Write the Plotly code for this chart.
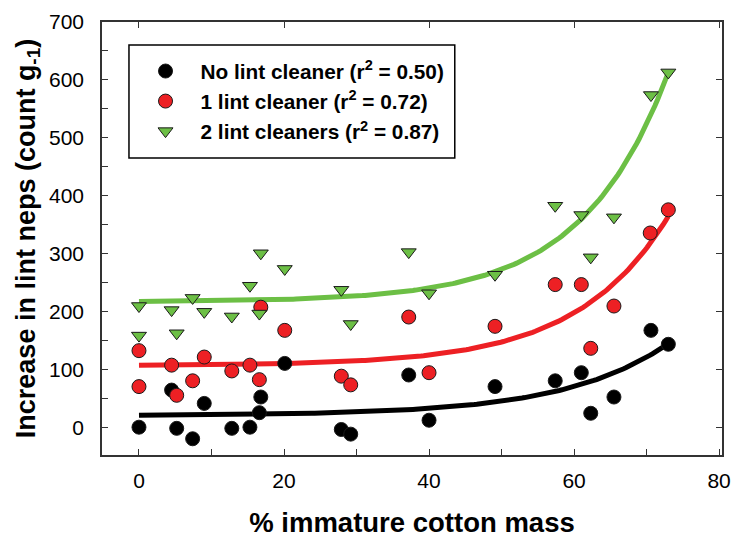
import numpy as np
import plotly.graph_objects as go

# ---- data ----
x_none = [0, 4.5, 5.2, 7.4, 9.0, 12.8, 15.3, 16.6, 16.8, 20.1, 27.9, 29.2, 37.2, 40.0, 49.1, 57.4, 61.0, 62.3, 65.5, 70.6, 73.0]
y_none = [1, 65, -1, -19, 42, -1, 1, 26, 53, 111, -3, -11, 91, 13, 71, 81, 95, 25, 53, 168, 144]

x_one = [0, 0, 4.5, 5.2, 7.4, 9.0, 12.8, 15.3, 16.6, 16.8, 20.1, 27.9, 29.2, 37.2, 40.0, 49.1, 57.4, 61.0, 62.3, 65.5, 70.5, 73.0]
y_one = [133, 71, 108, 56, 81, 122, 98, 108, 83, 208, 168, 89, 74, 191, 95, 175, 247, 247, 137, 210, 336, 376]

x_two = [0, 0, 4.5, 5.2, 7.4, 9.0, 12.8, 15.3, 16.6, 16.8, 20.1, 27.9, 29.2, 37.2, 40.0, 49.1, 57.4, 61.0, 62.3, 65.5, 70.6, 73.0]
y_two = [210, 159, 203, 163, 224, 200, 192, 245, 197, 301, 274, 238, 179, 303, 232, 264, 383, 367, 294, 363, 574, 613]

# exponential fits y = a + b*exp(c*x)
fit_none = (21.0, 0.75, 0.070)
fit_one = (107.0, 0.75, 0.080)
fit_two = (217.0, 0.80, 0.085)
fit_x_range = (0.0, 73.0)

names = ["<b>No lint cleaner (r<sup>2</sup> = 0.50)</b>",
         "<b>1 lint cleaner (r<sup>2</sup> = 0.72)</b>",
         "<b>2 lint cleaners (r<sup>2</sup> = 0.87)</b>"]

x_ticks = [0, 20, 40, 60, 80]
y_ticks = [0, 100, 200, 300, 400, 500, 600, 700]

line_colors = ["#000000", "#ED2024", "#6CBF45"]
fill_colors = ["#000000", "#ED2024", "#6CBF45"]
symbols = ["circle", "circle", "triangle-down"]

FONT = "Liberation Sans, Arial, sans-serif"

fig = go.Figure()

xf = np.linspace(fit_x_range[0], fit_x_range[1], 200)
for (a, b, c), col in zip([fit_none, fit_one, fit_two], line_colors):
    fig.add_trace(go.Scatter(x=xf, y=a + b * np.exp(c * xf), mode="lines",
                             line=dict(color=col, width=5), showlegend=False,
                             hoverinfo="skip"))

for i, (xs, ys) in enumerate([(x_none, y_none), (x_one, y_one), (x_two, y_two)]):
    fig.add_trace(go.Scatter(
        x=xs, y=ys, mode="markers", name=names[i], legendgroup="g%d" % i,
        marker=dict(symbol=symbols[i], size=14 if symbols[i] == "circle" else 13,
                    color=fill_colors[i],
                    line=dict(color="#1a1a1a", width=1))))

# invisible trace for the mirrored tick axes
fig.add_trace(go.Scatter(x=[0], y=[0], xaxis="x2", yaxis="y2", mode="markers",
                         marker=dict(opacity=0), showlegend=False, hoverinfo="skip"))

xr = [-5.1, 80.4]
yr = [-47, 700]

# legend frame (paper coordinates)
fig.add_shape(type="rect", xref="paper", yref="paper",
              x0=0.0435, x1=0.569, y0=0.686, y1=0.947,
              line=dict(color="black", width=1.5), fillcolor="white", layer="below")

fig.update_layout(
    width=735, height=540,
    margin=dict(l=102, r=13, t=22, b=85),
    paper_bgcolor="white", plot_bgcolor="white",
    font=dict(family=FONT, color="black"),
    showlegend=True,
    legend=dict(x=0.046, y=0.933, xanchor="left", yanchor="top",
                bgcolor="rgba(0,0,0,0)", borderwidth=0,
                font=dict(family=FONT, size=20.8, color="black"),
                itemwidth=60, tracegroupgap=0, traceorder="grouped"),
    xaxis=dict(range=xr, tickvals=x_ticks, ticks="inside", ticklen=6, tickwidth=1.2,
               tickcolor="#333", showgrid=False, zeroline=False, automargin=False,
               showline=True, linecolor="#333", linewidth=1.5, mirror=True,
               tickfont=dict(size=21, family=FONT), ticklabelstandoff=6,
               minor=dict(dtick=10, tick0=0, ticks="inside", ticklen=6, tickwidth=1.2, tickcolor="#333"),
               title=dict(text="<b>% immature cotton mass</b>", font=dict(size=27.5, family=FONT),
                          standoff=22)),
    yaxis=dict(range=yr, tickvals=y_ticks, ticks="inside", ticklen=6, tickwidth=1.2,
               tickcolor="#333", showgrid=False, zeroline=False, automargin=False,
               showline=True, linecolor="#333", linewidth=1.5, mirror=True,
               tickfont=dict(size=21, family=FONT), ticklabelstandoff=12,
               minor=dict(dtick=50, tick0=0, ticks="inside", ticklen=6, tickwidth=1.2, tickcolor="#333"),
               title=dict(text="<b>Increase in lint neps (count g<sub>-1</sub>)</b>",
                          font=dict(size=27, family=FONT), standoff=6)),
    xaxis2=dict(range=xr, overlaying="x", side="top", tickvals=x_ticks, ticks="inside",
                ticklen=6, tickwidth=1.2, tickcolor="#333", showticklabels=False,
                showgrid=False, zeroline=False, automargin=False),
    yaxis2=dict(range=yr, overlaying="y", side="right", tickvals=y_ticks, ticks="inside",
                ticklen=6, tickwidth=1.2, tickcolor="#333", showticklabels=False,
                showgrid=False, zeroline=False, automargin=False),
)

fig.write_html("out.html")
